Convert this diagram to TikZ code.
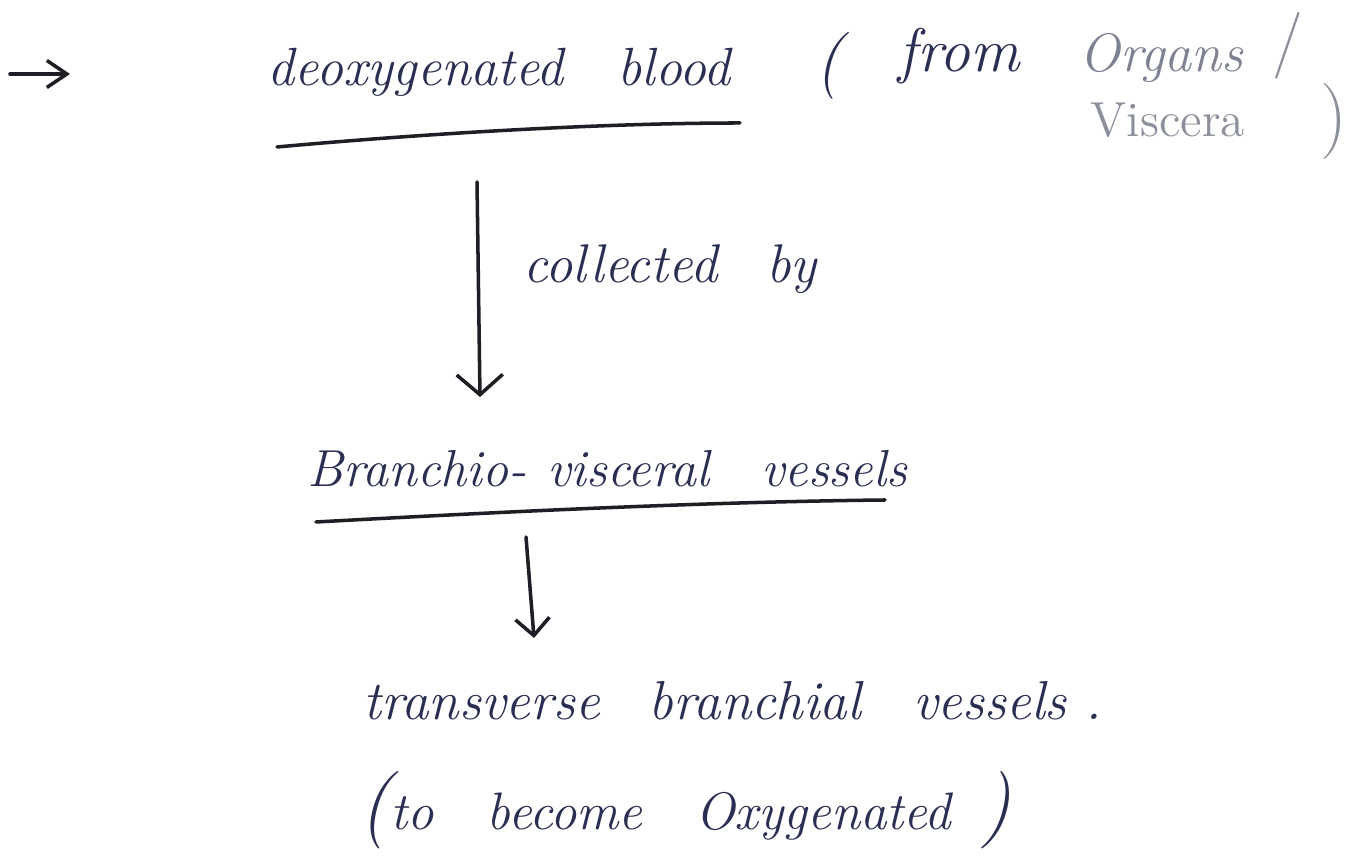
\documentclass[tikz,border=0pt]{standalone}
\usetikzlibrary{arrows.meta}
\definecolor{ink}{HTML}{2A2E52}
\definecolor{pencil}{HTML}{8C909C}
\definecolor{pen}{HTML}{1E1E24}
\def\unit{0.01cm}
\begin{document}
\begin{tikzpicture}[x=\unit, y=-\unit,
    word/.style={anchor=base west, inner sep=0pt, text=ink},
    faint/.style={word, text=pencil},
    stroke/.style={draw=pen, line width=1pt, line cap=round},
    flow/.style={stroke, -{Straight Barb[length=0.2cm, width=0.46cm, line width=1pt]}}]
      \useasboundingbox[fill=white] (0,0) rectangle (1351,865);
      \coordinate (bulletS) at (10,74);
      \coordinate (bulletE) at (70,74);
      \draw[stroke, -{Straight Barb[length=0.2cm, width=0.27cm, line width=1pt]}] (bulletS) -- (bulletE);
      \node[word, font=\itshape\fontsize{15.3}{18}\selectfont] (deoxy) at (267,86) {deoxygenated\hspace{1em}blood};
      \node[word, font=\itshape\fontsize{19}{22}\selectfont] (lpar) at (815,83) {(};
      \node[word, font=\itshape\fontsize{17.5}{20}\selectfont] (from) at (898,72) {from};
      \node[faint, font=\itshape\fontsize{15.4}{18}\selectfont, text=pencil!85!ink] (organs) at (1079,72) {Organs};
      \node[faint, font=\fontsize{19}{22}\selectfont] (slash) at (1272,63) {/};
      \node[faint, font=\fontsize{14}{17}\selectfont] (viscera) at (1090,137) {Viscera};
      \node[faint, font=\fontsize{21.7}{24}\selectfont] (rpar) at (1320,141) {)};
      \draw[stroke] (277,147) .. controls (420,134) and (600,123) .. (740,123);
      \coordinate (collS) at (477,182);
      \coordinate (collE) at (480,397);
      \draw[flow] (collS) -- (collE);
      \node[word, font=\itshape\fontsize{15.5}{18}\selectfont] (collected) at (523,283) {collected\hspace{0.9em}by};
      \node[word, font=\itshape\fontsize{14.8}{18}\selectfont] (branchio) at (307,487) {Branchio-\hspace{0.4em}visceral\hspace{1em}vessels};
      \draw[stroke] (316,522) .. controls (500,512) and (700,502) .. (885,500);
      \coordinate (transS) at (526,537);
      \coordinate (transE) at (534,638);
      \draw[stroke, -{Straight Barb[length=0.17cm, width=0.34cm, line width=1pt]}] (transS) -- (transE);
      \node[word, font=\itshape\fontsize{15.6}{18}\selectfont] (transverse) at (363,720) {transverse\hspace{0.9em}branchial\hspace{0.95em}vessels\hspace{0.35em}.};
      \node[word, font=\itshape\fontsize{15}{18}\selectfont] (oxy) at (359,830) {{\fontsize{22}{22}\selectfont(}to\hspace{1em}become\hspace{1em}Oxygenated\hspace{0.55em}{\fontsize{22}{22}\selectfont)}};
\end{tikzpicture}
\end{document}
